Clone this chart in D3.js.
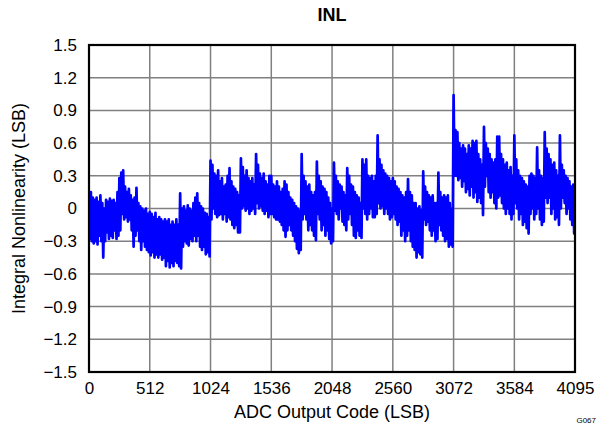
<!DOCTYPE html>
<html><head><meta charset="utf-8">
<script src="https://cdn.jsdelivr.net/npm/d3@7"></script>
<style>body{margin:0;background:#fff;}svg{display:block;font-family:"Liberation Sans",Arial,sans-serif;}</style>
</head><body>
<svg id="c" width="597" height="430"></svg>
<script>
const xTicks = [0, 512, 1024, 1536, 2048, 2560, 3072, 3584, 4095];
const yTicks = [-1.5, -1.2, -0.9, -0.6, -0.3, 0, 0.3, 0.6, 0.9, 1.2, 1.5];
// INL in bins of 16 codes: maximum and minimum per bin
const binSize = 16;
const inlHigh = [
  0.12, 0.15, 0.1, 0.08, 0.1, 0.06, 0.12, 0.05, 0.0, 0.08,
  0.06, 0.09, 0.07, 0.08, 0.05, 0.15, 0.28, 0.33, 0.35, 0.2,
  0.15, 0.18, 0.12, 0.08, 0.1, 0.19, 0.05, 0.02, 0.0, -0.02,
  0.0, -0.05, -0.03, -0.05, -0.08, -0.04, -0.1, -0.08, -0.1, -0.12,
  -0.1, -0.12, -0.1, -0.15, -0.12, -0.15, -0.1, -0.15, 0.14, 0.0,
  0.02, -0.02, 0.03, 0.0, -0.02, 0.05, 0.1, 0.14, 0.05, 0.02,
  0.0, -0.04, -0.05, -0.08, 0.44, 0.4, 0.32, 0.3, 0.35, 0.25,
  0.28, 0.2, 0.22, 0.3, 0.37, 0.25, 0.2, 0.18, 0.15, 0.12,
  0.46, 0.38, 0.3, 0.35, 0.28, 0.25, 0.28, 0.22, 0.5, 0.4,
  0.32, 0.28, 0.32, 0.25, 0.22, 0.3, 0.3, 0.22, 0.2, 0.25,
  0.2, 0.15, 0.18, 0.25, 0.22, 0.15, 0.1, 0.08, 0.05, 0.02,
  0.0, -0.02, 0.5, 0.3, 0.25, 0.2, 0.22, 0.15, 0.12, 0.15,
  0.43, 0.3, 0.25, 0.2, 0.18, 0.15, 0.1, 0.05, 0.0, 0.42,
  0.3, 0.25, 0.22, 0.2, 0.15, 0.12, 0.37, 0.3, 0.22, 0.2,
  0.15, 0.12, 0.1, 0.05, 0.45, 0.4, 0.45, 0.3, 0.28, 0.3,
  0.25, 0.3, 0.67, 0.45, 0.4, 0.35, 0.32, 0.3, 0.28, 0.25,
  0.28, 0.25, 0.2, 0.18, 0.15, 0.12, 0.1, 0.15, 0.27, 0.15,
  0.12, 0.05, 0.05, 0.0, 0.02, -0.02, 0.34, 0.2, 0.15, 0.12,
  0.1, 0.12, 0.05, 0.05, 0.33, 0.15, 0.1, 0.12, 0.1, 0.12,
  0.05, 0.0, 1.04, 0.72, 0.7, 0.6, 0.55, 0.58, 0.55, 0.5,
  0.58, 0.55, 0.62, 0.6, 0.62, 0.5, 0.45, 0.4, 0.75, 0.6,
  0.55, 0.5, 0.45, 0.42, 0.45, 0.66, 0.66, 0.5, 0.45, 0.4,
  0.42, 0.35, 0.38, 0.3, 0.67, 0.45, 0.35, 0.3, 0.28, 0.25,
  0.22, 0.2, 0.3, 0.32, 0.3, 0.28, 0.56, 0.35, 0.3, 0.28,
  0.7, 0.55, 0.5, 0.45, 0.4, 0.42, 0.35, 0.3, 0.67, 0.4,
  0.35, 0.3, 0.28, 0.25, 0.2, 0.22, 0.17
];
const inlLow = [
  -0.28, -0.3, -0.32, -0.3, -0.33, -0.25, -0.3, -0.45, -0.3, -0.22,
  -0.28, -0.25, -0.27, -0.2, -0.28, -0.25, -0.2, -0.05, -0.1, -0.08,
  -0.12, -0.1, -0.2, -0.35, -0.25, -0.2, -0.3, -0.38, -0.3, -0.35,
  -0.38, -0.4, -0.43, -0.4, -0.45, -0.42, -0.45, -0.42, -0.47, -0.45,
  -0.53, -0.48, -0.54, -0.5, -0.53, -0.48, -0.5, -0.53, -0.55, -0.35,
  -0.3, -0.32, -0.34, -0.28, -0.3, -0.25, -0.3, -0.25, -0.35, -0.38,
  -0.35, -0.42, -0.4, -0.44, -0.1, 0.0, -0.05, -0.08, -0.06, -0.05,
  -0.1, -0.05, -0.12, -0.08, -0.1, -0.15, -0.18, -0.15, -0.22, -0.22,
  0.0, 0.02, -0.02, 0.0, -0.05, -0.02, 0.0, -0.05, 0.05, 0.0,
  0.02, -0.02, -0.05, -0.02, -0.08, -0.05, -0.05, -0.08, -0.1, -0.1,
  -0.12, -0.15, -0.2, -0.26, -0.2, -0.15, -0.2, -0.25, -0.3, -0.37,
  -0.41, -0.38, -0.1, -0.05, -0.1, -0.2, -0.15, -0.2, -0.25, -0.29,
  -0.05, -0.1, -0.2, -0.15, -0.25, -0.2, -0.28, -0.32, -0.3, -0.02,
  -0.05, -0.1, 0.0, -0.12, -0.15, -0.2, -0.1, -0.05, -0.15, -0.25,
  -0.27, -0.2, -0.25, -0.27, 0.0, -0.05, -0.1, -0.05, 0.0, -0.08,
  -0.08, -0.05, 0.05, 0.0, 0.02, -0.05, 0.0, -0.05, -0.1, -0.08,
  -0.05, -0.1, -0.15, -0.12, -0.25, -0.2, -0.3, -0.25, -0.2, -0.3,
  -0.35, -0.38, -0.45, -0.4, -0.42, -0.45, -0.1, -0.15, -0.12, -0.2,
  -0.25, -0.2, -0.3, -0.28, -0.15, -0.2, -0.25, -0.3, -0.28, -0.35,
  -0.33, -0.35, 0.3, 0.3, 0.26, 0.28, 0.2, 0.25, 0.15, 0.18,
  0.12, 0.2, 0.1, 0.15, 0.06, 0.1, 0.05, -0.06, 0.2, 0.3,
  0.15, 0.1, 0.15, 0.05, 0.0, 0.1, 0.12, 0.05, 0.0, -0.05,
  0.0, -0.05, -0.1, -0.05, 0.05, 0.0, -0.1, -0.05, -0.15, -0.12,
  -0.18, -0.23, -0.05, 0.0, -0.1, -0.05, 0.0, -0.1, -0.15, -0.12,
  0.1, 0.05, 0.1, -0.05, 0.0, -0.1, -0.08, -0.15, 0.0, 0.1,
  0.05, -0.05, 0.0, -0.1, -0.15, -0.23, -0.22
];

const binStart = inlHigh.map((v, i) => Math.min(i * binSize, 4095));
const trace = [];
inlHigh.forEach((hi, i) => {
  trace.push({ code: binStart[i], v: hi });
  trace.push({ code: Math.min(binStart[i] + binSize / 2, 4095), v: inlLow[i] });
});

const svg = d3.select("#c");
const m = { left: 89, right: 575, top: 45, bottom: 372 };
const x = d3.scaleLinear().domain([0, 4095]).range([m.left, m.right]);
const y = d3.scaleLinear().domain([-1.5, 1.5]).range([m.bottom, m.top]);
const fmt = v => (v === 0 ? "0" : (v < 0 ? "\u2212" : "") + Math.abs(v).toFixed(1));
const FONT = "Liberation Sans, Arial, sans-serif";

// grid
svg.append("g").selectAll("line").data(xTicks.slice(1, -1)).enter().append("line")
  .attr("x1", d => x(d)).attr("x2", d => x(d)).attr("y1", m.top).attr("y2", m.bottom)
  .attr("stroke", "#808080").attr("stroke-width", 1.5);
svg.append("g").selectAll("line").data(yTicks.slice(1, -1)).enter().append("line")
  .attr("y1", d => y(d)).attr("y2", d => y(d)).attr("x1", m.left).attr("x2", m.right)
  .attr("stroke", "#808080").attr("stroke-width", 1.5);

// data trace
svg.append("clipPath").attr("id", "clp").append("rect")
  .attr("x", m.left).attr("y", m.top).attr("width", m.right - m.left).attr("height", m.bottom - m.top);
svg.append("path").datum(trace)
  .attr("clip-path", "url(#clp)")
  .attr("d", d3.line().x(d => x(d.code)).y(d => y(d.v)))
  .attr("fill", "none").attr("stroke", "#0000ff").attr("stroke-width", 2.7)
  .attr("stroke-linejoin", "round");

// frame
svg.append("rect").attr("x", m.left).attr("y", m.top)
  .attr("width", m.right - m.left).attr("height", m.bottom - m.top)
  .attr("fill", "none").attr("stroke", "#000").attr("stroke-width", 2.2);

// tick labels
const xAxis = d3.axisBottom(x).tickValues(xTicks).tickSize(0).tickPadding(10).tickFormat(d => String(d));
const gx = svg.append("g").attr("transform", `translate(0,${m.bottom})`).call(xAxis);
gx.select(".domain").remove();
gx.selectAll("text").attr("font-size", 17).attr("fill", "#000").attr("font-family", FONT);

const yAxis = d3.axisLeft(y).tickValues(yTicks).tickSize(0).tickPadding(12).tickFormat(fmt);
const gy = svg.append("g").attr("transform", `translate(${m.left},0)`).call(yAxis);
gy.select(".domain").remove();
gy.selectAll("text").attr("font-size", 17).attr("fill", "#000").attr("font-family", FONT);

// titles
svg.append("text").attr("x", 332).attr("y", 21).attr("text-anchor", "middle")
  .attr("font-size", 18).attr("font-weight", "bold").text("INL");
svg.append("text").attr("x", 332).attr("y", 418).attr("text-anchor", "middle")
  .attr("font-size", 18).text("ADC Output Code (LSB)");
svg.append("text").attr("transform", `translate(25,${(m.top + m.bottom) / 2}) rotate(-90)`)
  .attr("text-anchor", "middle").attr("font-size", 18).text("Integral Nonlinearity (LSB)");
svg.append("text").attr("x", 596).attr("y", 423).attr("text-anchor", "end")
  .attr("font-size", 8).text("G067");
</script>
</body></html>
